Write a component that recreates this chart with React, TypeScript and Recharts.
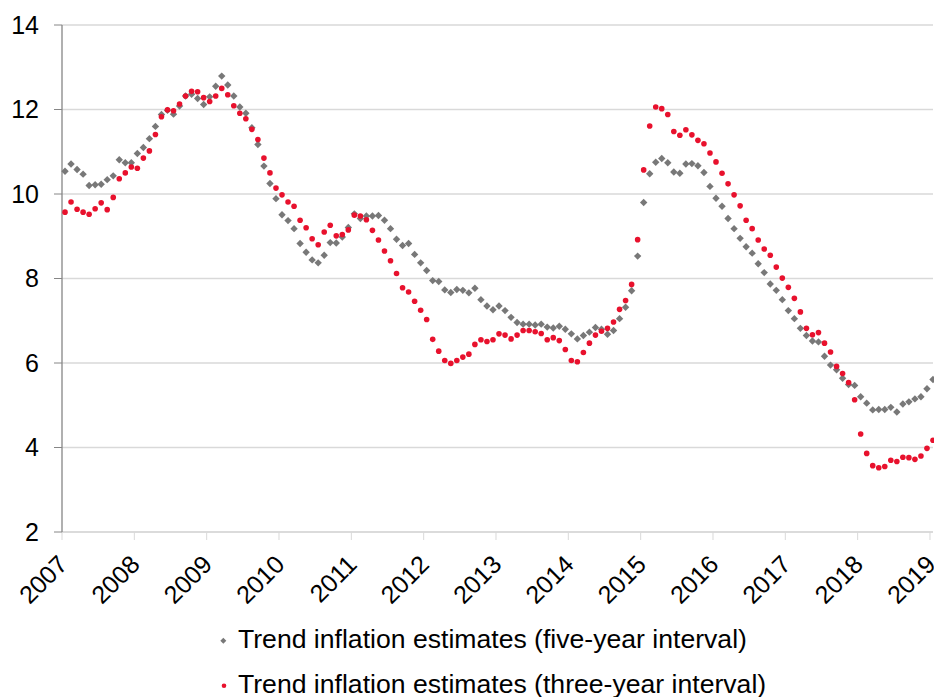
import React from 'react';
import { ScatterChart, Scatter, XAxis, YAxis, CartesianGrid, Legend } from 'recharts';

const START_YEAR = 2007;

// Monthly values, Jan 2007 .. Jan 2019
const fiveYear: number[] = [
  10.54, 10.71, 10.58, 10.47, 10.2, 10.22, 10.23, 10.34, 10.43, 10.81, 10.74, 10.74,
  10.96, 11.1, 11.31, 11.6, 11.88, 11.98, 11.89, 12.08, 12.32, 12.36, 12.26, 12.12,
  12.3, 12.55, 12.79, 12.58, 12.32, 12.06, 11.91, 11.57, 11.17, 10.66, 10.25, 9.89,
  9.51, 9.37, 9.18, 8.83, 8.62, 8.44, 8.37, 8.55, 8.85, 8.84, 8.98, 9.21,
  9.53, 9.42, 9.48, 9.48, 9.49, 9.38, 9.18, 8.93, 8.78, 8.83, 8.57, 8.37,
  8.19, 7.95, 7.93, 7.73, 7.67, 7.74, 7.72, 7.66, 7.77, 7.5, 7.35, 7.26,
  7.35, 7.24, 7.08, 6.96, 6.92, 6.92, 6.9, 6.92, 6.85, 6.83, 6.87, 6.8,
  6.69, 6.57, 6.65, 6.73, 6.84, 6.8, 6.68, 6.77, 7.05, 7.32, 7.71, 8.53,
  9.8, 10.48, 10.75, 10.84, 10.74, 10.52, 10.49, 10.71, 10.72, 10.67, 10.51, 10.18,
  9.9, 9.71, 9.42, 9.18, 8.95, 8.75, 8.6, 8.35, 8.14, 7.87, 7.72, 7.5,
  7.24, 7.05, 6.82, 6.65, 6.52, 6.5, 6.16, 5.95, 5.84, 5.64, 5.49, 5.47,
  5.2, 5.05, 4.89, 4.9, 4.9, 4.95, 4.84, 5.03, 5.08, 5.15, 5.2, 5.39,
  5.61,
];

const threeYear: number[] = [
  9.57, 9.81, 9.64, 9.57, 9.52, 9.65, 9.79, 9.63, 9.92, 10.36, 10.5, 10.64,
  10.61, 10.85, 11.02, 11.41, 11.83, 11.99, 11.97, 12.13, 12.32, 12.43, 12.42, 12.28,
  12.19, 12.32, 12.5, 12.35, 12.09, 11.91, 11.78, 11.53, 11.29, 10.85, 10.5, 10.14,
  9.98, 9.81, 9.71, 9.38, 9.2, 8.94, 8.8, 9.1, 9.26, 9.01, 9.04, 9.15,
  9.5, 9.48, 9.39, 9.14, 8.91, 8.65, 8.42, 8.12, 7.78, 7.68, 7.46, 7.25,
  7.03, 6.56, 6.28, 6.06, 5.99, 6.06, 6.14, 6.21, 6.44, 6.55, 6.51, 6.55,
  6.69, 6.66, 6.57, 6.66, 6.77, 6.77, 6.74, 6.7, 6.55, 6.6, 6.53, 6.32,
  6.06, 6.03, 6.25, 6.47, 6.66, 6.75, 6.82, 6.97, 7.27, 7.48, 7.86, 8.92,
  10.57, 11.61, 12.06, 12.02, 11.88, 11.48, 11.39, 11.52, 11.4, 11.27, 11.19, 10.97,
  10.76, 10.49, 10.24, 9.98, 9.72, 9.38, 9.18, 8.91, 8.7, 8.55, 8.27, 8.01,
  7.79, 7.53, 7.21, 6.82, 6.67, 6.72, 6.47, 6.26, 5.92, 5.75, 5.54, 5.13,
  4.32, 3.86, 3.57, 3.52, 3.55, 3.7, 3.67, 3.77, 3.76, 3.72, 3.8, 3.98,
  4.17,
];

const xTicks: number[] = [2007, 2008, 2009, 2010, 2011, 2012, 2013, 2014, 2015, 2016, 2017, 2018, 2019];
const yTicks: number[] = [2, 4, 6, 8, 10, 12, 14];
const seriesNames: string[] = [
  'Trend inflation estimates (five-year interval)',
  'Trend inflation estimates (three-year interval)',
];

const GRAY = '#787878';
const RED = '#e8112d';
const FONT = "Arial, 'Liberation Sans', Helvetica, sans-serif";

const toPoints = (vals: number[]) =>
  vals.map((v, i) => ({ x: START_YEAR + (i + 0.5) / 12, y: v }));

const fivePts = toPoints(fiveYear);
const threePts = toPoints(threeYear);
const xMax = START_YEAR + (fiveYear.length - 0.5) / 12;

const Diamond = (p: any) => {
  const { cx, cy } = p;
  const s = 3.7;
  return <path d={`M${cx},${cy - s}L${cx + s},${cy}L${cx},${cy + s}L${cx - s},${cy}Z`} fill={GRAY} />;
};

const Dot = (p: any) => {
  const { cx, cy } = p;
  return <circle cx={cx} cy={cy} r={2.8} fill={RED} />;
};

const XTick = (p: any) => {
  const { x, y, payload } = p;
  const tx = x + 7;
  const ty = y + 24;
  return (
    <text
      x={tx}
      y={ty}
      transform={`rotate(-45 ${tx} ${ty})`}
      textAnchor="end"
      fontSize={25}
      fontFamily={FONT}
      fill="#000"
    >
      {payload.value}
    </text>
  );
};

const LegendBox = () => (
  <svg width={934} height={90} style={{ display: 'block' }}>
    <path d="M223.3,30.7L226.3,33.7L223.3,36.7L220.3,33.7Z" fill={GRAY} />
    <text x={238} y={41} fontSize={26.6} fontFamily={FONT} fill="#000">
      {seriesNames[0]}
    </text>
    <circle cx={224} cy={78.7} r={2.3} fill={RED} />
    <text x={238} y={86} fontSize={26.6} fontFamily={FONT} fill="#000">
      {seriesNames[1]}
    </text>
  </svg>
);

export default function App() {
  return (
    <div style={{ position: 'absolute', left: 0, top: 0, background: '#fff' }}>
      <ScatterChart width={934} height={697} margin={{ top: 25, right: 1, bottom: 0, left: 0 }}>
        <CartesianGrid horizontal vertical={false} stroke="#d9d9d9" strokeWidth={1.3} />
        <XAxis
          type="number"
          dataKey="x"
          domain={[START_YEAR, xMax]}
          ticks={xTicks}
          interval={0}
          height={75}
          tickSize={8}
          tickMargin={2}
          stroke="#d9d9d9"
          tickLine={{ stroke: '#d9d9d9' }}
          axisLine={{ stroke: '#d9d9d9', strokeWidth: 1.3 }}
          tick={<XTick />}
        />
        <YAxis
          type="number"
          dataKey="y"
          domain={[2, 14]}
          ticks={yTicks}
          interval={0}
          width={62}
          tickSize={8}
          tickMargin={15}
          axisLine={{ stroke: '#868686', strokeWidth: 1.3 }}
          tickLine={{ stroke: '#868686' }}
          tick={{ fontSize: 25, fill: '#000', fontFamily: FONT }}
        />
        <Scatter name={seriesNames[0]} data={fivePts} fill={GRAY} shape={Diamond} isAnimationActive={false} />
        <Scatter name={seriesNames[1]} data={threePts} fill={RED} shape={Dot} isAnimationActive={false} />
        <Legend
          verticalAlign="bottom"
          wrapperStyle={{ left: 0, bottom: 0, width: 934 }}
          content={() => <LegendBox />}
        />
      </ScatterChart>
    </div>
  );
}
